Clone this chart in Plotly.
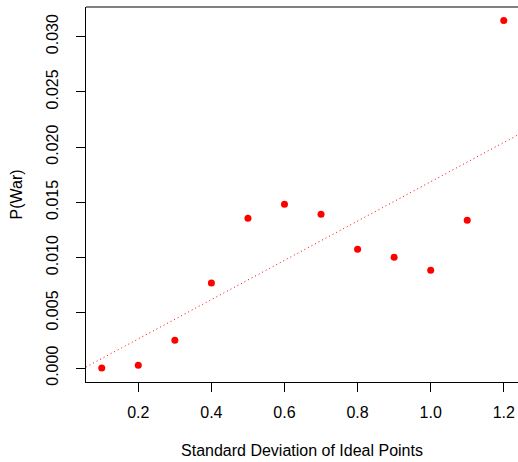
import plotly.graph_objects as go

# Data
sd_ideal = [0.1, 0.2, 0.3, 0.4, 0.5, 0.6, 0.7, 0.8, 0.9, 1.0, 1.1, 1.2]
p_war = [0.0000, 0.00027, 0.00253, 0.00771, 0.01355, 0.01482, 0.01392,
         0.01075, 0.01003, 0.00886, 0.01337, 0.03145]
fit_intercept = -0.00091
fit_slope = 0.01777

x_range = [0.0569, 1.2389]
y_range = [-0.001256, 0.03267]
x_ticks = [0.2, 0.4, 0.6, 0.8, 1.0, 1.2]
y_ticks = [0.000, 0.005, 0.010, 0.015, 0.020, 0.025, 0.030]

line_x = [0.0569, 1.2389]
line_y = [fit_intercept + fit_slope * v for v in line_x]

fig = go.Figure()
fig.add_trace(go.Scatter(
    x=line_x, y=line_y, mode="lines",
    line=dict(color="red", width=1, dash="1px,3px"),
    hoverinfo="skip", showlegend=False, cliponaxis=True))
fig.add_trace(go.Scatter(
    x=sd_ideal, y=p_war, mode="markers",
    marker=dict(color="red", size=7, line=dict(width=0)),
    showlegend=False, cliponaxis=False))

font = dict(family="Liberation Sans, Arial, sans-serif", size=16, color="black")

fig.update_layout(
    width=518, height=462,
    margin=dict(l=86, r=0, t=7, b=80),
    paper_bgcolor="white", plot_bgcolor="white",
    font=font,
    xaxis=dict(
        range=x_range, tickvals=x_ticks, ticktext=[f"{v:.1f}" for v in x_ticks],
        showline=True, linecolor="black", linewidth=1, mirror=False,
        ticks="outside", ticklen=9, tickwidth=1, tickcolor="black",
        showgrid=False, zeroline=False, ticklabelstandoff=7,
        title=dict(text="Standard Deviation of Ideal Points", standoff=24,
                   font=dict(size=16))),
    yaxis=dict(
        range=y_range, tickvals=y_ticks, ticktext=[f"{v:.3f}" for v in y_ticks],
        tickangle=-90,
        showline=True, linecolor="black", linewidth=1,
        ticks="outside", ticklen=9, tickwidth=1, tickcolor="black",
        showgrid=False, zeroline=False, ticklabelstandoff=12,
        title=dict(text="P(War)", standoff=16, font=dict(size=16))),
    shapes=[dict(type="line", xref="paper", yref="paper", x0=0, x1=1, y0=1, y1=1,
                 line=dict(color="rgb(128,128,128)", width=2))],
)

fig.write_html("out.html", config={"displayModeBar": False},
               post_script="document.body.style.margin='0';document.body.style.overflow='hidden';")
